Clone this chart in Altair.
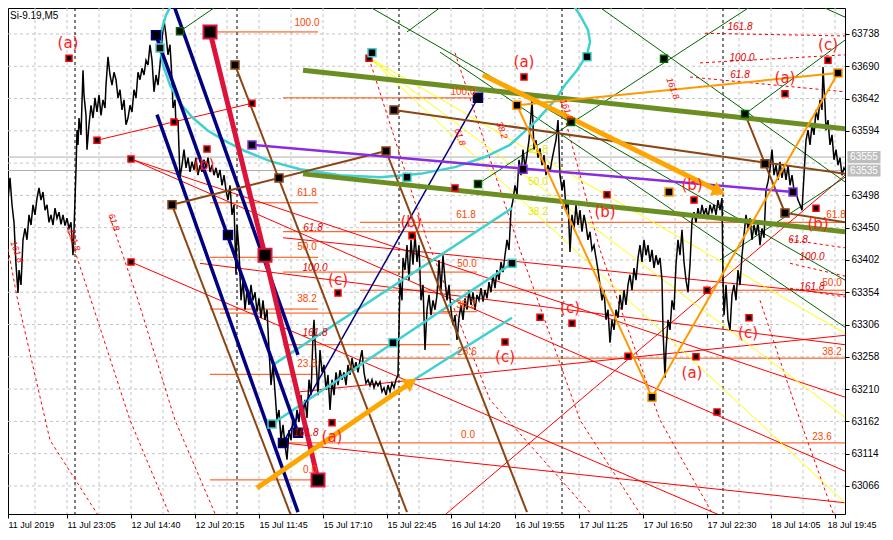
import json
import altair as alt
import pandas as pd

# ---------------- price series (bar index, price) ----------------
s_11jul = [(0,63484),(2,63499),(4,63469),(6,63506),(8,63491),(10,63524),(12,63484),(14,63458),(16,63395),(18,63353),(19,63387),(21,63365),(23,63432),(25,63449),(27,63432),(29,63469),(31,63454),(33,63484),(35,63469),(37,63494),(39,63509),(41,63491),(43,63503),(45,63476),(47,63484),(49,63458),(51,63469),(53,63454),(55,63479),(57,63464),(59,63473),(61,63455),(63,63469),(65,63453),(67,63464),(69,63449),(71,63458),(73,63409),(74,63447)]
s_12jul = [(75,63491),(76,63536),(77,63595),(78,63573),(79,63613),(81,63588),(83,63684),(84,63647),(86,63617),(87,63566),(89,63603),(91,63632),(93,63613),(95,63643),(97,63622),(99,63647),(101,63617),(103,63640),(105,63628),(106,63662),(108,63704),(110,63677),(112,63662),(114,63681),(116,63670),(118,63643),(120,63655),(122,63625),(124,63640),(126,63603),(128,63613),(130,63632),(132,63622),(134,63655),(136,63643),(138,63681),(140,63670),(142,63687),(144,63677),(146,63699),(148,63692),(150,63722),(152,63699),(154,63652),(156,63677),(158,63662),(160,63692),(162,63729),(164,63759),(166,63736),(168,63707),(170,63722),(172,63670),(173,63628),(175,63640),(176,63603),(178,63610),(180,63524),(182,63543),(184,63566),(186,63539),(188,63554),(190,63533),(192,63548),(194,63536),(196,63554),(198,63528),(200,63543),(202,63533),(204,63551),(206,63539),(208,63554),(210,63533),(212,63543),(214,63528),(216,63539),(218,63524),(220,63536),(222,63513),(224,63528),(226,63506),(228,63491),(230,63513),(232,63469),(234,63484),(236,63380)]
s_15jul = [(237,63454),(239,63417),(241,63342),(243,63372),(245,63328),(247,63357),(249,63335),(251,63365),(253,63342),(255,63354),(257,63325),(259,63345),(261,63316),(263,63342),(265,63313),(267,63328),(269,63268),(271,63216),(273,63246),(275,63206),(277,63164),(279,63179),(281,63134),(283,63157),(285,63127),(287,63105),(289,63149),(291,63134),(293,63167),(295,63149),(297,63179),(299,63161),(301,63201),(303,63171),(305,63194),(307,63167),(309,63224),(311,63201),(313,63290),(314,63313),(316,63253),(318,63201),(320,63268),(322,63235),(324,63246),(326,63209),(328,63231),(330,63179),(332,63224),(334,63201),(336,63235),(338,63216),(340,63238),(342,63224),(344,63235),(346,63216),(348,63246),(350,63231),(352,63256),(354,63238),(356,63250),(358,63235),(360,63253),(362,63268),(364,63235),(366,63219),(368,63224),(370,63215),(372,63224),(374,63212),(376,63221),(378,63215),(380,63221),(382,63206),(384,63212),(386,63201),(388,63216),(390,63206),(392,63219),(394,63212),(396,63224),(398,63231)]
s_16jul = [(400,63369),(402,63342),(403,63405),(405,63387),(407,63424),(409,63372),(411,63432),(413,63395),(415,63439),(417,63399),(419,63424),(421,63342),(423,63365),(425,63268),(427,63328),(429,63350),(431,63320),(433,63342),(435,63328),(437,63350),(439,63402),(441,63357),(443,63409),(445,63372),(447,63342),(449,63365),(451,63328),(453,63305),(455,63320),(457,63283),(459,63316),(461,63335),(463,63313),(465,63345),(467,63328),(469,63357),(471,63335),(473,63354),(475,63328),(477,63350),(479,63342),(481,63360),(483,63340),(485,63357),(487,63345),(489,63369),(491,63354),(493,63380),(495,63360),(497,63387),(499,63372),(501,63399),(503,63384),(505,63409),(507,63432),(509,63417),(511,63476),(513,63491),(515,63513),(517,63499),(519,63551),(521,63528),(523,63566),(525,63539),(527,63558),(529,63580),(531,63617),(532,63640),(534,63566),(536,63580),(538,63554),(540,63568),(542,63543),(544,63558),(546,63528),(548,63543),(550,63533),(552,63551),(554,63566),(556,63580),(558,63610),(560,63528)]
s_17jul = [(562,63506),(564,63521),(566,63476),(568,63491),(570,63414),(572,63469),(574,63447),(576,63484),(578,63454),(580,63476),(582,63444),(584,63469),(586,63454),(588,63432),(590,63444),(592,63417),(594,63424),(596,63405),(598,63387),(600,63365),(602,63342),(604,63357),(606,63313),(608,63328),(610,63279),(612,63313),(614,63298),(616,63328),(618,63316),(620,63350),(622,63328),(624,63357),(626,63335),(628,63365),(630,63380),(632,63357),(634,63390),(636,63372),(638,63405),(640,63424),(642,63399),(644,63432),(646,63409),(648,63424),(650,63399),(652,63417),(654,63390),(656,63409),(658,63395),(660,63405),(662,63372),(663,63298),(665,63227),(666,63268),(668,63313),(670,63298),(672,63342),(674,63328),(676,63395),(678,63432),(680,63409),(682,63447),(684,63399),(686,63372),(688,63354),(690,63395),(692,63461),(694,63473),(696,63458),(698,63479),(700,63464),(702,63484),(704,63469),(706,63479),(708,63464),(710,63484),(712,63473),(714,63484),(716,63469),(718,63491),(720,63476),(722,63494)]
s_18jul = [(723,63372),(724,63320),(726,63365),(728,63313),(730,63298),(732,63350),(734,63365),(736,63342),(738,63387),(740,63365),(742,63409),(744,63439),(746,63469),(748,63449),(750,63464),(752,63432),(754,63454),(756,63439),(758,63458),(760,63424),(762,63449),(764,63435),(766,63506),(768,63518),(770,63536),(772,63566),(774,63528),(776,63543),(778,63521),(780,63548),(782,63524),(784,63543),(786,63521),(788,63543),(790,63513),(792,63528),(794,63506),(796,63503),(798,63491),(800,63484),(802,63476),(804,63528),(806,63580),(808,63595),(810,63573),(812,63603),(814,63588),(816,63625),(818,63610),(820,63640),(822,63625),(823,63689),(825,63632),(826,63595),(828,63610),(830,63573),(832,63588),(834,63551),(836,63566),(838,63543),(840,63554),(842,63528),(844,63539),(845,63536)]

# ---------------- axes ----------------
x_tick_values = [8, 67, 131, 195, 259, 323, 387, 451, 515, 579, 643, 707, 771, 835]
x_tick_labels = ["11 Jul 2019", "11 Jul 23:05", "12 Jul 14:40", "12 Jul 20:15", "15 Jul 11:45",
                 "15 Jul 17:10", "15 Jul 22:45", "16 Jul 14:20", "16 Jul 19:55", "17 Jul 11:25",
                 "17 Jul 16:50", "17 Jul 22:30", "18 Jul 14:05", "18 Jul 19:45"]
y_tick_values = [63066, 63114, 63162, 63210, 63258, 63306, 63354, 63402, 63450, 63498, 63594, 63642, 63690, 63738]
x_grid = [35, 67, 99, 131, 163, 195, 227, 259, 291, 323, 355, 387, 419, 451, 483, 515, 547, 579, 611, 643, 675, 707, 739, 771, 803, 835]
y_grid = [63066, 63114, 63162, 63210, 63258, 63306, 63354, 63402, 63450, 63498, 63546, 63594, 63642, 63690, 63738]
day_separators = [75, 237, 399, 562, 723]
current_prices = [63555, 63535]
chart_title = "Si-9.19,M5"

# ---------------- drawn objects (bar, price) ----------------
navy_thick = [(173, 63784, 298, 63261), (156, 63736, 298, 63145), (157, 63618, 298, 63027)]
navy_thin = [(283, 63130, 478, 63643)]
crimson_path = [[(210, 63741), (265, 63409), (318, 63075)]]
brown_lines = [(235, 63692, 407, 63027), (172, 63484, 292, 63018), (172, 63484, 386, 63564),
               (386, 63564, 527, 63027), (394, 63625, 845, 63530)]
brown_path = [[(745, 63619), (765, 63545), (785, 63472), (845, 63458)]]
olive_lines = [(303, 63684, 845, 63597), (303, 63530, 845, 63444)]
purple_lines = [(252, 63573, 793, 63503)]
arc_bar = [174, 166, 161, 160, 163, 170, 180, 193, 208, 225, 245, 270, 300, 340, 380, 420, 455, 485, 510, 537, 555, 565, 577, 587, 590, 588, 580, 570]
arc_price = [63788, 63766, 63741, 63717, 63692, 63662, 63635, 63613, 63594, 63579, 63564, 63549, 63537, 63528, 63525, 63530, 63540, 63555, 63573, 63610, 63640, 63662, 63684, 63707, 63726, 63744, 63766, 63788]
cyan_lines = [(273, 63246, 512, 63479), (272, 63158, 512, 63397), (412, 63222, 512, 63316)]
orange_thick = [(257, 63063, 413, 63222), (483, 63677, 722, 63502)]
orange_heads = [(411, 63220, 56), (719, 63504, 116)]
orange_path = [[(517, 63632), (652, 63198), (838, 63680)], [(517, 63632), (838, 63680)]]
yellow_lines = [(370, 63702, 845, 63293), (370, 63702, 845, 63168), (370, 63702, 845, 63041)]
green_lines = [(180, 63742, 225, 63788), (407, 63741, 450, 63788), (363, 63784, 845, 63372),
               (440, 63711, 845, 63302), (478, 63515, 760, 63788), (745, 63619, 845, 63729),
               (590, 63788, 845, 63518), (808, 63788, 845, 63763), (720, 63402, 845, 63525)]
red_lines = [(97, 63580, 252, 63635), (131, 63552, 845, 63198), (131, 63552, 845, 63088),
             (131, 63399, 730, 63016), (283, 63435, 845, 63350), (200, 63397, 845, 63276),
             (441, 63018, 845, 63528), (300, 63206, 845, 63290), (283, 63130, 845, 63041)]
red_dash_paths = [
    [(7, 63427), (17, 63347), (50, 63134), (100, 63018)],
    [(67, 63451), (90, 63347), (130, 63164), (171, 63018)],
    [(110, 63466), (137, 63347), (175, 63164), (217, 63018)],
    [(369, 63702), (427, 63432), (490, 63194), (595, 63018)],
    [(455, 63710), (520, 63417), (580, 63164), (643, 63018)],
    [(560, 63640), (600, 63417), (660, 63164), (715, 63018)],
    [(760, 63342), (800, 63164), (835, 63018)],
]
red_dash_short = [(705, 63739, 845, 63735), (700, 63695, 845, 63707), (690, 63674, 845, 63652),
                  (720, 63784, 845, 63781), (790, 63432, 845, 63420), (790, 63397, 845, 63378),
                  (790, 63360, 845, 63347)]
fib_levels = [(210, 318, 63741), (210, 318, 63487), (283, 475, 63444), (210, 318, 63406),
              (283, 477, 63384), (210, 318, 63329), (220, 450, 63323), (283, 450, 63276),
              (210, 318, 63232), (283, 845, 63130), (210, 318, 63075), (283, 478, 63643),
              (360, 845, 63458), (360, 845, 63357), (440, 477, 63325), (363, 845, 63256)]
fib_texts = [("100.0", 307, 63754), ("61.8", 307, 63502), ("50.0", 307, 63421), ("38.2", 307, 63344),
             ("23.6", 307, 63247), ("0.0", 310, 63090), ("100.0", 463, 63652), ("61.8", 466, 63469),
             ("50.0", 467, 63396), ("38.2", 466, 63335), ("23.6", 467, 63265), ("0.0", 468, 63142),
             ("61.8", 836, 63469), ("50.0", 832, 63368), ("38.2", 832, 63265), ("23.6", 822, 63139)]
fib_texts_red = [("61.8", 313, 63449), ("100.0", 315, 63390), ("161.8", 315, 63293), ("161.8", 306, 63145),
                 ("161.8", 740, 63748), ("100.0", 742, 63702), ("61.8", 740, 63677),
                 ("61.8", 798, 63432), ("100.0", 812, 63406), ("161.8", 812, 63362)]
fib_texts_rot = [("161.8", 17, 63414), ("161.8", 74, 63432), ("61.8", 114, 63458),
                 ("61.8", 460, 63585), ("38.2", 502, 63595), ("161.8", 567, 63625), ("161.8", 673, 63657)]
yellow_texts = [("61.8", 538, 63566), ("50.0", 538, 63518), ("38.2", 538, 63473)]
wave_labels = [("(a)", 68, 63725), ("(a)", 524, 63696), ("(c)", 828, 63722), ("(a)", 785, 63673),
               ("(b)", 204, 63543), ("(b)", 411, 63458), ("(c)", 338, 63372), ("(b)", 605, 63473),
               ("(b)", 692, 63513), ("(b)", 818, 63455), ("(c)", 570, 63331), ("(c)", 505, 63258),
               ("(c)", 748, 63293), ("(a)", 692, 63234), ("(a)", 332, 63139)]
sq_crimson = [(210, 63741), (265, 63409), (318, 63075)]
sq_navy = [(156, 63736), (228, 63439), (283, 63130), (298, 63145), (478, 63643)]
sq_cyan = [(160, 63717), (272, 63158), (393, 63279), (512, 63397), (407, 63525), (587, 63704), (372, 63710)]
sq_brown = [(235, 63692), (172, 63484), (279, 63524), (386, 63564), (394, 63625), (765, 63545), (785, 63472)]
sq_purple = [(252, 63573), (523, 63537), (793, 63503)]
sq_orange = [(517, 63632), (652, 63198), (838, 63680), (669, 63503)]
sq_green = [(180, 63742), (478, 63515), (571, 63607), (664, 63701), (745, 63619)]
sq_red = [(69, 63702), (97, 63580), (131, 63552), (131, 63399), (174, 63607), (207, 63567), (252, 63635),
          (338, 63353), (332, 63160), (412, 63438), (369, 63702), (455, 63509), (524, 63674), (505, 63280),
          (540, 63317), (572, 63308), (607, 63499), (628, 63259), (694, 63491), (707, 63357), (696, 63258),
          (749, 63316), (785, 63649), (816, 63479), (828, 63699), (717, 63176)]

# ---------------- scales and shared axes ----------------
FONT = "Liberation Sans"
xs = alt.Scale(domain=[8, 845], nice=False, zero=False)
ys = alt.Scale(domain=[63024.3, 63776.6], nice=False, zero=False)
lbl_expr = f"{json.dumps(x_tick_labels)}[indexof({json.dumps(x_tick_values)}, datum.value)]"
AX_X = alt.Axis(values=x_tick_values, labelExpr=lbl_expr, orient="bottom", title=None, grid=False, domain=False,
                ticks=True, tickSize=4, tickColor="black", labelAlign="left", labelBaseline="top", labelPadding=2,
                labelFontSize=9, labelFont=FONT, labelColor="black", labelOverlap=False, labelBound=False,
                labelFlush=False,
                labelOffset={"condition": {"test": "datum.value == 835", "value": -8}, "value": 0})
AX_Y = alt.Axis(values=y_tick_values, orient="right", title=None, grid=False, domain=False, tickSize=4,
                tickColor="black", labelFontSize=10, labelFont=FONT, labelColor="black", labelPadding=2,
                labelOverlap=False, labelFlush=False, format="d")


def X(f):
    return alt.X(f, type="quantitative", scale=xs, axis=AX_X)


def Y(f):
    return alt.Y(f, type="quantitative", scale=ys, axis=AX_Y)


def segs(rows, color, width, dash=None, opacity=1.0):
    df = pd.DataFrame(rows, columns=["x", "p", "x2", "p2"])
    kw = dict(color=color, strokeWidth=width, clip=True, opacity=opacity)
    if dash:
        kw["strokeDash"] = dash
    return alt.Chart(df).mark_rule(**kw).encode(x=X("x"), y=Y("p"), x2="x2:Q", y2="p2:Q")


def paths(plist, color, width, dash=None):
    rows = []
    for gi, path in enumerate(plist):
        for oi, (x, p) in enumerate(path):
            rows.append({"g": gi, "o": oi, "x": x, "p": p})
    kw = dict(color=color, strokeWidth=width, clip=True)
    if dash:
        kw["strokeDash"] = dash
    return alt.Chart(pd.DataFrame(rows)).mark_line(**kw).encode(
        x=X("x"), y=Y("p"), detail="g:N", order="o:Q")


def squares(pts, border, size, sw=1.5):
    df = pd.DataFrame(pts, columns=["x", "p"])
    return alt.Chart(df).mark_point(shape="square", filled=True, fill="black", stroke=border,
                                    strokeWidth=sw, size=size, opacity=1, clip=True).encode(x=X("x"), y=Y("p"))


def texts(rows, color, size, angle=0, style="normal", font=FONT):
    df = pd.DataFrame(rows, columns=["t", "x", "p"])
    return alt.Chart(df).mark_text(color=color, fontSize=size, font=font, angle=angle, fontStyle=style,
                                   align="center", baseline="middle", clip=True).encode(
        x=X("x"), y=Y("p"), text="t:N")


layers = []
# grid
layers.append(alt.Chart(pd.DataFrame({"gx": x_grid})).mark_rule(color="#C4C4C4", strokeDash=[3, 3], strokeWidth=1, clip=True).encode(x=X("gx")))
layers.append(alt.Chart(pd.DataFrame({"gy": y_grid})).mark_rule(color="#C4C4C4", strokeDash=[3, 3], strokeWidth=1, clip=True).encode(y=Y("gy")))
layers.append(alt.Chart(pd.DataFrame({"d": day_separators})).mark_rule(color="black", strokeDash=[3, 3], strokeWidth=1, clip=True).encode(x=X("d")))
layers.append(alt.Chart(pd.DataFrame({"cp": current_prices})).mark_rule(color="#B0B0B0", strokeWidth=1, clip=True).encode(y=Y("cp")))

# thin objects
layers.append(alt.Chart(pd.DataFrame(fib_levels, columns=["x", "x2", "p"])).mark_rule(color="#FF4500", strokeWidth=1, clip=True).encode(x=X("x"), x2="x2:Q", y=Y("p")))
layers.append(segs(red_lines, "#FF0000", 1))
layers.append(paths(red_dash_paths, "#FF0000", 1, dash=[3, 3]))
layers.append(segs(red_dash_short, "#FF0000", 1, dash=[3, 3]))
layers.append(segs(yellow_lines, "#FFFF00", 1))
layers.append(segs(green_lines, "#006400", 1))

# price line
price_df = pd.DataFrame(s_11jul + s_12jul + s_15jul + s_16jul + s_17jul + s_18jul, columns=["bar", "price"])
layers.append(alt.Chart(price_df).mark_line(color="black", strokeWidth=1.5, clip=True).encode(x=X("bar"), y=Y("price")))

# thick objects
layers.append(segs(cyan_lines, "#40D0D0", 2.5))
arc_df = pd.DataFrame({"x": arc_bar, "p": arc_price, "o": list(range(len(arc_bar)))})
layers.append(alt.Chart(arc_df).mark_line(color="#40D0D0", strokeWidth=2.5, clip=True).encode(x=X("x"), y=Y("p"), order="o:Q"))
layers.append(segs(navy_thick, "#000080", 3.5))
layers.append(segs(navy_thin, "#000080", 1.5))
layers.append(segs(brown_lines, "#8B4513", 2))
layers.append(paths(brown_path, "#8B4513", 2))
layers.append(segs(olive_lines, "#6B8E23", 5))
layers.append(segs(purple_lines, "#8A2BE2", 2.5))
layers.append(paths(orange_path, "#FF9900", 2))
layers.append(paths(crimson_path, "#DC143C", 5))
layers.append(segs(orange_thick, "#FFA500", 5))
heads = pd.DataFrame(orange_heads, columns=["x", "p", "a"])
layers.append(alt.Chart(heads).mark_point(shape="triangle-up", filled=True, color="#FFA500", size=220, opacity=1, clip=True).encode(x=X("x"), y=Y("p"), angle=alt.Angle("a:Q", scale=None)))

# squares
layers.append(squares(sq_red, "#FF0000", 36, 1.5))
layers.append(squares(sq_green, "#006400", 49, 1.5))
layers.append(squares(sq_cyan, "#40D0D0", 64, 1.5))
layers.append(squares(sq_brown, "#8B4513", 64, 1.5))
layers.append(squares(sq_purple, "#8A2BE2", 64, 1.5))
layers.append(squares(sq_orange, "#FF9900", 64, 1.5))
layers.append(squares(sq_navy, "#000080", 81, 1.5))
layers.append(squares(sq_crimson, "#DC143C", 169, 2))

# texts
layers.append(texts(fib_texts, "#FF4500", 10))
layers.append(texts(fib_texts_red, "#E00000", 10, style="italic"))
layers.append(texts(fib_texts_rot, "#FF0000", 9, angle=70, style="italic"))
layers.append(texts(yellow_texts, "#E8E800", 10))
layers.append(texts(wave_labels, "#FF2020", 15, font="DejaVu Sans"))
layers.append(alt.Chart(pd.DataFrame({"t": [chart_title], "x": [10], "p": [63764]})).mark_text(
    color="black", fontSize=10, font=FONT, align="left", baseline="middle", clip=True).encode(
    x=X("x"), y=Y("p"), text="t:N"))

# current price boxes on the right axis
cp_df = pd.DataFrame({"cp": current_prices, "t": [str(v) for v in current_prices]})
layers.append(alt.Chart(cp_df).mark_point(shape="M-1,-0.33L1,-0.33L1,0.33L-1,0.33Z", filled=True, fill="#BDBDBD",
                                          stroke="#BDBDBD", opacity=1, size=961).encode(x=alt.value(856), y=Y("cp")))
layers.append(alt.Chart(cp_df).mark_text(color="white", fontSize=10, font=FONT, align="center", baseline="middle").encode(
    x=alt.value(856), y=Y("cp"), text="t:N"))

chart = alt.layer(*layers).properties(
    width=837, height=506,
    autosize=alt.AutoSizeParams(type="none"),
    padding={"left": 0, "top": 0, "right": 40, "bottom": 18},
    background="white",
).configure_view(stroke="black", strokeWidth=1)

chart.save("out.html", embed_options={"renderer": "svg", "actions": False})
